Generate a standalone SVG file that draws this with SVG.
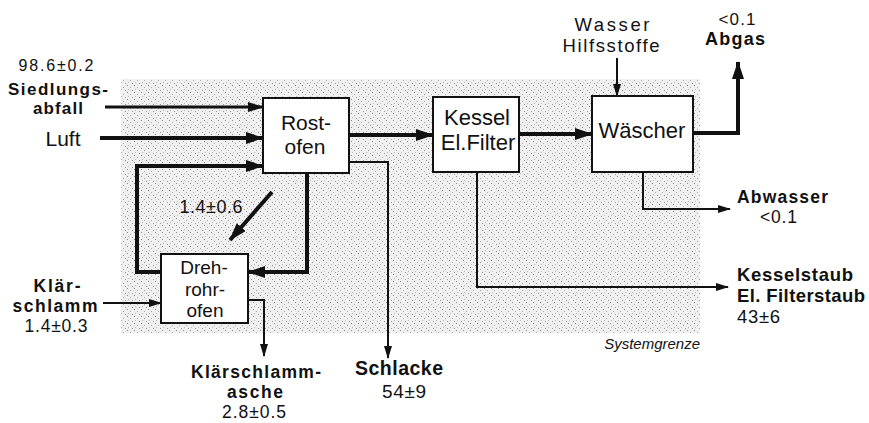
<svg xmlns="http://www.w3.org/2000/svg" width="869" height="423" viewBox="0 0 869 423">
<style>
text{font-family:"Liberation Sans",Arial,Helvetica,sans-serif;fill:#111}
.r{font-size:18px}
.b{font-size:18px;font-weight:bold}
.bx{font-size:22px}
.m{text-anchor:middle}
.box{fill:#fff;stroke:#111;stroke-width:2}
.c{fill:none;stroke:#111;stroke-linejoin:miter}
.t4{stroke-width:4}
.t3{stroke-width:3}
.t2{stroke-width:2}
</style>
<defs>
<pattern id="stip" width="7" height="7" patternUnits="userSpaceOnUse">
<rect width="7" height="7" fill="#f0f0f0"/>
<rect x="1" y="1" width="1" height="1" fill="#888"/>
<rect x="4" y="3" width="1" height="1" fill="#aaa"/>
<rect x="2" y="5" width="1" height="1" fill="#bbb"/>
<rect x="6" y="6" width="1" height="1" fill="#999"/>
</pattern>
<marker id="big" markerWidth="18" markerHeight="12" refX="17" refY="6" orient="auto" markerUnits="userSpaceOnUse"><path d="M0,0 L18,6 L0,12 z" fill="#111"/></marker>
<marker id="mid" markerWidth="16" markerHeight="10" refX="15" refY="5" orient="auto" markerUnits="userSpaceOnUse"><path d="M0,0 L16,5 L0,10 z" fill="#111"/></marker>
<marker id="sm" markerWidth="13" markerHeight="8" refX="12" refY="4" orient="auto" markerUnits="userSpaceOnUse"><path d="M0,0 L13,4 L0,8 z" fill="#111"/></marker>
</defs>
<rect id="systemgrenze" x="121" y="79" width="579" height="254" fill="url(#stip)"/>
<text x="700" y="349" style="font-size:15px;font-style:italic;text-anchor:end">Systemgrenze</text>

<g id="connectors">
<path class="c t3" d="M105,107 H263" marker-end="url(#mid)"/>
<path class="c t4" d="M100,138 H263" marker-end="url(#big)"/>
<path class="c t4" d="M161,272 H137 V166 H263" marker-end="url(#big)"/>
<path class="c t4" d="M307,173 V272 H248" marker-end="url(#big)"/>
<path class="c t4" d="M272,192 L230,240" marker-end="url(#big)"/>
<path class="c t2" d="M103,303 H161" marker-end="url(#sm)"/>
<path class="c t2" d="M248,300 H264 V356" marker-end="url(#sm)"/>
<path class="c t2" d="M349,162 H388 V358" marker-end="url(#sm)"/>
<path class="c t4" d="M349,135 H433" marker-end="url(#big)"/>
<path class="c t4" d="M519,134 H592" marker-end="url(#big)"/>
<path class="c t4" d="M693,133 H738 V62" marker-end="url(#big)"/>
<path class="c t2" d="M617,58 V96" marker-end="url(#sm)"/>
<path class="c t2" d="M643,172 V209 H730" marker-end="url(#sm)"/>
<path class="c t2" d="M477,172 V287 H728" marker-end="url(#sm)"/>
</g>

<g id="rostofen">
<rect class="box" x="263" y="98" width="86" height="75"/>
<text class="m" x="306" y="130" style="font-size:21px">Rost-</text>
<text class="m" x="305" y="154" style="font-size:21px">ofen</text>
</g>
<g id="kessel">
<rect class="box" x="433" y="97" width="86" height="75"/>
<text class="bx m" x="477" y="125">Kessel</text>
<text class="bx m" x="478" y="150">El.Filter</text>
</g>
<g id="waescher">
<rect class="box" x="592" y="96" width="101" height="76"/>
<text class="bx m" x="642" y="138">Wäscher</text>
</g>
<g id="drehrohrofen">
<rect class="box" x="161" y="254" width="87" height="69"/>
<text class="m" x="204" y="274" style="font-size:19px">Dreh-</text>
<text class="m" x="205" y="295.5" style="font-size:19px">rohr-</text>
<text class="m" x="205" y="317" style="font-size:19px">ofen</text>
</g>

<g id="labels">
<text class="m" x="56" y="71" style="font-size:16px" textLength="75" lengthAdjust="spacing">98.6±0.2</text>
<text class="m" x="58" y="95" style="font-size:17px;font-weight:bold" textLength="100" lengthAdjust="spacing">Siedlungs-</text>
<text class="m" x="58" y="114" style="font-size:17px;font-weight:bold" textLength="50" lengthAdjust="spacing">abfall</text>
<text class="m" x="63" y="146" style="font-size:21px">Luft</text>
<text class="r m" x="211" y="213" textLength="63" lengthAdjust="spacing">1.4±0.6</text>
<text class="m" x="57" y="292" style="font-size:17.5px;font-weight:bold" textLength="47" lengthAdjust="spacing">Klär-</text>
<text class="m" x="55" y="312" style="font-size:17.5px;font-weight:bold" textLength="85" lengthAdjust="spacing">schlamm</text>
<text class="m" x="56" y="332" style="font-size:17.5px" textLength="63" lengthAdjust="spacing">1.4±0.3</text>
<text class="m" x="256" y="378" style="font-size:17.5px;font-weight:bold" textLength="130" lengthAdjust="spacing">Klärschlamm-</text>
<text class="m" x="255" y="398" style="font-size:17.5px;font-weight:bold" textLength="56" lengthAdjust="spacing">asche</text>
<text class="m" x="254" y="418" style="font-size:17.5px" textLength="64" lengthAdjust="spacing">2.8±0.5</text>
<text class="m" x="399" y="375" style="font-size:19.5px;font-weight:bold" textLength="88" lengthAdjust="spacing">Schlacke</text>
<text class="m" x="404" y="398" style="font-size:19px" textLength="44" lengthAdjust="spacing">54±9</text>
<text class="m" x="612" y="31" style="font-size:18.5px" textLength="75" lengthAdjust="spacing">Wasser</text>
<text class="m" x="611" y="52" style="font-size:18.5px" textLength="97" lengthAdjust="spacing">Hilfsstoffe</text>
<text class="m" x="737" y="25" style="font-size:17px" textLength="37" lengthAdjust="spacing">&lt;0.1</text>
<text class="b m" x="735" y="45" textLength="60" lengthAdjust="spacing">Abgas</text>
<text class="b" x="737" y="203" style="font-size:17.5px" textLength="91" lengthAdjust="spacing">Abwasser</text>
<text class="r" x="760" y="223" style="font-size:17.5px" textLength="37" lengthAdjust="spacing">&lt;0.1</text>
<text class="b" x="737" y="281" style="font-size:18.5px" textLength="116" lengthAdjust="spacing">Kesselstaub</text>
<text class="b" x="737" y="302" style="font-size:18.5px" textLength="128" lengthAdjust="spacing">El. Filterstaub</text>
<text class="r" x="737" y="323" style="font-size:18.5px" textLength="43" lengthAdjust="spacing">43±6</text>
</g>
</svg>
